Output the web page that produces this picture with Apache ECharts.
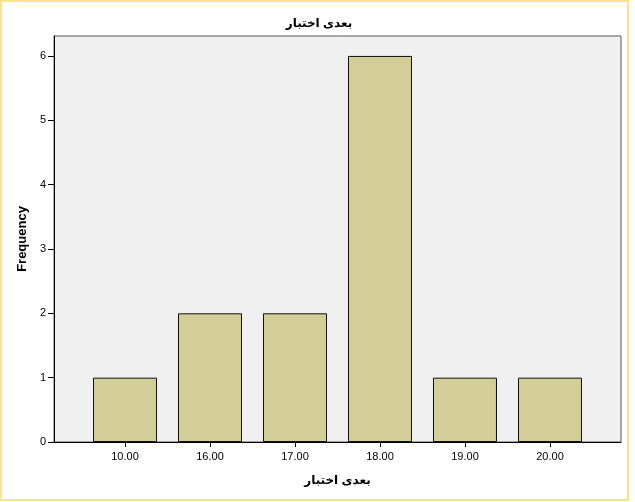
<!DOCTYPE html>
<html>
<head>
<meta charset="utf-8">
<script src="https://cdn.jsdelivr.net/npm/echarts@6/dist/echarts.min.js"></script>
<style>
  html, body { margin: 0; padding: 0; background: #fff; }
  #main { width: 635px; height: 502px; }
</style>
</head>
<body>
<div id="main"></div>
<script>
// values
var categories = ["10.00", "16.00", "17.00", "18.00", "19.00", "20.00"];
var frequency = [1, 2, 2, 6, 1, 1];
var yTicks = [0, 1, 2, 3, 4, 5, 6];
var titleText = "بعدی اختبار";

var positions = categories.map(function (c, i) { return i; });
var barData = frequency.map(function (v, i) { return [i, v]; });

var font = "'Liberation Sans', 'DejaVu Sans', Arial, sans-serif";

var myChart = echarts.init(document.getElementById("main"));
myChart.setOption({
  animation: false,
  backgroundColor: "#fff",
  title: {
    text: titleText,
    left: 314,
    top: 13,
    textAlign: "center",
    textStyle: { fontFamily: font, fontSize: 12, fontWeight: "bold", color: "#000" }
  },
  graphic: [
    {
      type: "rect",
      shape: { x: 1, y: 1, width: 627, height: 499 },
      style: { fill: "none", stroke: "#fae48c", lineWidth: 2 },
      z: 100
    }
  ],
  grid: {
    left: 54,
    top: 36,
    right: 14,
    bottom: 60,
    show: true,
    backgroundColor: "#f0f0f0",
    borderColor: "#555",
    borderWidth: 1
  },
  xAxis: {
    type: "value",
    min: -0.8353,
    max: 5.8353,
    name: titleText,
    nameLocation: "middle",
    nameGap: 33,
    nameTextStyle: { fontFamily: font, fontSize: 12, fontWeight: "bold", color: "#000" },
    axisLine: { show: true, onZero: false, lineStyle: { color: "#000", width: 1 } },
    axisTick: { show: true, length: 5, customValues: positions, lineStyle: { color: "#000" } },
    axisLabel: {
      customValues: positions,
      margin: 9,
      fontFamily: font,
      fontSize: 11,
      color: "#000",
      formatter: function (v) { return categories[Math.round(v)]; }
    },
    splitLine: { show: false }
  },
  yAxis: {
    type: "value",
    min: 0,
    max: 6.31,
    name: "Frequency",
    nameLocation: "middle",
    nameGap: 22,
    nameTextStyle: { fontFamily: font, fontSize: 13, fontWeight: "bold", color: "#000" },
    axisLine: { show: true, onZero: false, lineStyle: { color: "#000", width: 1 } },
    axisTick: { show: true, length: 6, customValues: yTicks, lineStyle: { color: "#000" } },
    axisLabel: {
      customValues: yTicks,
      margin: 8,
      fontFamily: font,
      fontSize: 11,
      color: "#000"
    },
    splitLine: { show: false }
  },
  series: [
    {
      type: "bar",
      barWidth: 64,
      data: barData,
      itemStyle: {
        color: "#d3ce97",
        borderColor: "#111",
        borderWidth: 1
      }
    }
  ]
});
</script>
</body>
</html>
